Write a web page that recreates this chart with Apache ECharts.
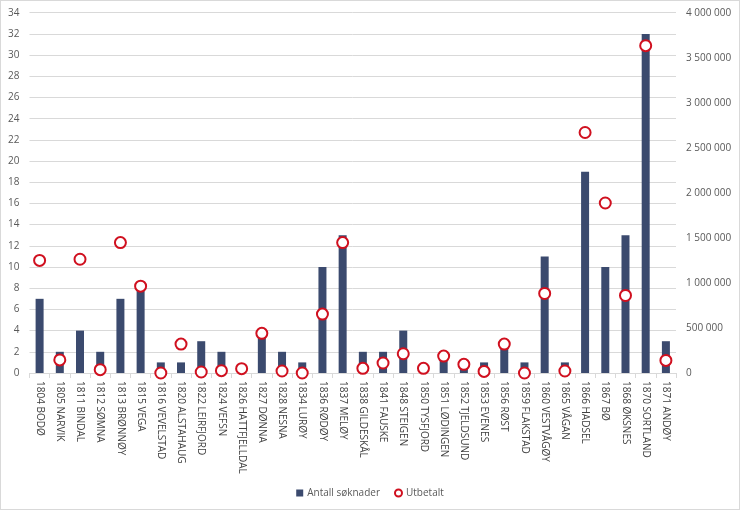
<!DOCTYPE html>
<html>
<head>
<meta charset="utf-8">
<script src="https://cdn.jsdelivr.net/npm/echarts@6/dist/echarts.min.js"></script>
<style>
html,body{margin:0;padding:0;background:#fff;}
#wrap{position:relative;width:740px;height:510px;}
#chart{width:740px;height:510px;}
#frame{position:absolute;left:0;top:0;width:738px;height:508px;border:1px solid #d9d9d9;pointer-events:none;}
</style>
</head>
<body>
<div id="wrap"><div id="chart"></div><div id="frame"></div></div>
<script>
var categories = ["1804 BODØ","1805 NARVIK","1811 BINDAL","1812 SØMNA","1813 BRØNNØY","1815 VEGA","1816 VEVELSTAD","1820 ALSTAHAUG","1822 LEIRFJORD","1824 VEFSN","1826 HATTFJELLDAL","1827 DØNNA","1828 NESNA","1834 LURØY","1836 RØDØY","1837 MELØY","1838 GILDESKÅL","1841 FAUSKE","1848 STEIGEN","1850 TYSFJORD","1851 LØDINGEN","1852 TJELDSUND","1853 EVENES","1856 RØST","1859 FLAKSTAD","1860 VESTVÅGØY","1865 VÅGAN","1866 HADSEL","1867 BØ","1868 ØKSNES","1870 SORTLAND","1871 ANDØY"];
var antallSoknader = [7,2,4,2,7,8,1,1,3,2,0,4,2,1,10,13,2,2,4,0,2,1,1,3,1,11,1,19,10,13,32,3];
var utbetalt = [1250000,145000,1263000,37000,1448000,964000,0,321000,11000,26000,48000,440000,22000,0,654000,1448000,52000,111000,214000,52000,188000,96000,18000,321000,0,883000,22000,2670000,1887000,861000,3634000,140000];
var leftTicks = {min:0, max:34, interval:2};
var rightTicks = {min:0, max:4000000, interval:500000};

var chart = echarts.init(document.getElementById('chart'));
var font = '"Open Sans", sans-serif';
chart.setOption({
  animation:false,
  textStyle:{fontFamily:font},
  grid:{left:29.5, right:64, top:12.7, bottom:137, containLabel:false},
  legend:{
    bottom:7, left:'center', itemGap:14, itemWidth:7, itemHeight:7,
    textStyle:{color:'#595959', fontSize:10, fontFamily:font, padding:[0,0,0,-1]},
    data:[{name:'Antall søknader', icon:'rect'},{name:'Utbetalt', icon:'circle'}]
  },
  xAxis:{
    type:'category', data:categories,
    axisLine:{lineStyle:{color:'#d9d9d9'}},
    axisTick:{show:true, length:5, lineStyle:{color:'#d9d9d9'}},
    axisLabel:{interval:0, rotate:-90, margin:8, color:'#404040', fontSize:10, fontFamily:font}
  },
  yAxis:[
    {type:'value', min:leftTicks.min, max:leftTicks.max, interval:leftTicks.interval,
     axisLine:{show:false}, axisTick:{show:false},
     axisLabel:{color:'#595959', fontSize:10, margin:10, fontFamily:font},
     splitLine:{lineStyle:{color:'#d9d9d9'}}},
    {type:'value', min:rightTicks.min, max:rightTicks.max, interval:rightTicks.interval,
     axisLine:{show:false}, axisTick:{show:false}, splitLine:{show:false},
     axisLabel:{color:'#595959', fontSize:10, margin:10, fontFamily:font,
       formatter:function(v){return String(v).replace(/\B(?=(\d{3})+(?!\d))/g,' ');}}}
  ],
  series:[
    {name:'Antall søknader', type:'bar', yAxisIndex:0, data:antallSoknader, barWidth:8,
     itemStyle:{color:'#3b4a6e'}},
    {name:'Utbetalt', type:'scatter', yAxisIndex:1, data:utbetalt, symbol:'circle', symbolSize:11,
     itemStyle:{color:'#ffffff', borderColor:'#d0101f', borderWidth:2, opacity:1}}
  ]
});
</script>
</body>
</html>
